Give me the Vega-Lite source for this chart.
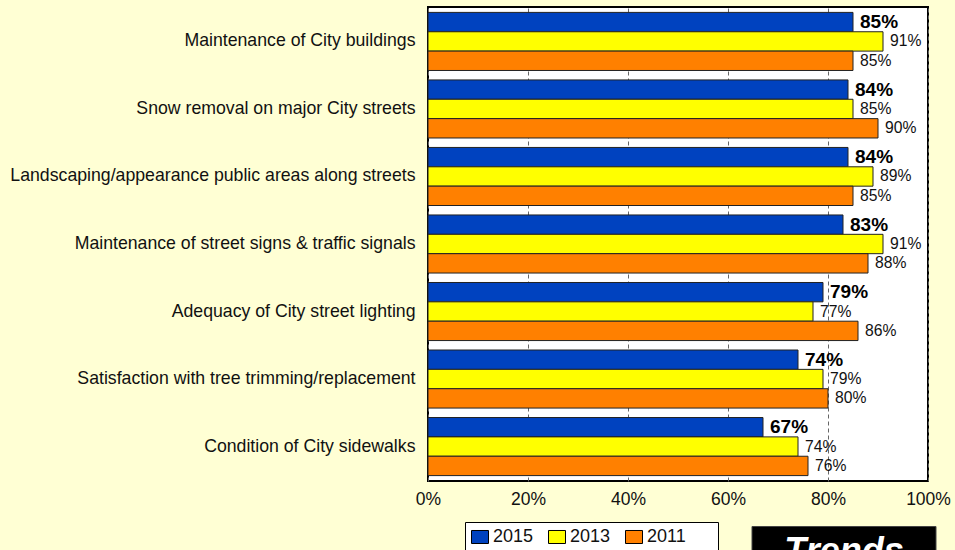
{
  "$schema": "https://vega.github.io/schema/vega-lite/v6.json",
  "width": 500,
  "height": 474,
  "autosize": {"type": "none"},
  "padding": {"left": 428, "top": 7, "right": 27, "bottom": 69},
  "background": "#FFFFD4",
  "config": {
    "font": "Liberation Sans",
    "view": {"fill": "white", "stroke": "black", "strokeWidth": 2}
  },
  "layer": [
    {
      "data": {
        "values": [
          {"item": "Maintenance of City buildings", "year": "2015", "value": 0.85},
          {"item": "Maintenance of City buildings", "year": "2013", "value": 0.91},
          {"item": "Maintenance of City buildings", "year": "2011", "value": 0.85},
          {"item": "Snow removal on major City streets", "year": "2015", "value": 0.84},
          {"item": "Snow removal on major City streets", "year": "2013", "value": 0.85},
          {"item": "Snow removal on major City streets", "year": "2011", "value": 0.90},
          {"item": "Landscaping/appearance public areas along streets", "year": "2015", "value": 0.84},
          {"item": "Landscaping/appearance public areas along streets", "year": "2013", "value": 0.89},
          {"item": "Landscaping/appearance public areas along streets", "year": "2011", "value": 0.85},
          {"item": "Maintenance of street signs & traffic signals", "year": "2015", "value": 0.83},
          {"item": "Maintenance of street signs & traffic signals", "year": "2013", "value": 0.91},
          {"item": "Maintenance of street signs & traffic signals", "year": "2011", "value": 0.88},
          {"item": "Adequacy of City street lighting", "year": "2015", "value": 0.79},
          {"item": "Adequacy of City street lighting", "year": "2013", "value": 0.77},
          {"item": "Adequacy of City street lighting", "year": "2011", "value": 0.86},
          {"item": "Satisfaction with tree trimming/replacement", "year": "2015", "value": 0.74},
          {"item": "Satisfaction with tree trimming/replacement", "year": "2013", "value": 0.79},
          {"item": "Satisfaction with tree trimming/replacement", "year": "2011", "value": 0.80},
          {"item": "Condition of City sidewalks", "year": "2015", "value": 0.67},
          {"item": "Condition of City sidewalks", "year": "2013", "value": 0.74},
          {"item": "Condition of City sidewalks", "year": "2011", "value": 0.76}
        ]
      },
      "encoding": {
        "y": {
          "field": "item",
          "type": "nominal",
          "sort": null,
          "scale": {"paddingInner": 0.14, "paddingOuter": 0.08},
          "axis": {
            "title": null,
            "ticks": false,
            "domain": false,
            "grid": false,
            "labelFontSize": 17.7,
            "labelPadding": 13,
            "labelLimit": 0,
            "labelColor": "#111111"
          }
        },
        "yOffset": {
          "field": "year",
          "type": "nominal",
          "scale": {"domain": ["2015", "2013", "2011"]}
        },
        "x": {
          "field": "value",
          "type": "quantitative",
          "scale": {"domain": [0, 1], "nice": false},
          "axis": {
            "title": null,
            "values": [0, 0.2, 0.4, 0.6, 0.8, 1],
            "format": ".0%",
            "grid": true,
            "gridDash": [4, 3],
            "gridColor": "#666666",
            "gridWidth": 1,
            "ticks": false,
            "domain": false,
            "labelFlush": false,
            "labelFontSize": 17.5,
            "labelPadding": 9,
            "labelColor": "#111111"
          }
        }
      },
      "layer": [
        {
          "mark": {"type": "bar", "stroke": "#222222", "strokeWidth": 1},
          "encoding": {
            "color": {
              "field": "year",
              "type": "nominal",
              "scale": {"domain": ["2015", "2013", "2011"], "range": ["#0042BF", "#FFFF00", "#FF8000"]},
              "legend": {
                "orient": "none",
                "legendX": 37,
                "legendY": 515,
                "direction": "horizontal",
                "title": null,
                "strokeColor": "black",
                "fillColor": "white",
                "padding": 6,
                "symbolType": "M-1,-0.765H1V0.765H-1Z",
                "symbolSize": 289,
                "symbolStrokeColor": "black",
                "symbolStrokeWidth": 1,
                "symbolOpacity": 1,
                "labelFontSize": 18,
                "labelColor": "#111111",
                "labelOffset": 4,
                "columnPadding": 12,
                "labelExpr": "datum.label == '2011' ? datum.label + '\u2800\u2800' : datum.label"
              }
            }
          }
        },
        {
          "transform": [{"filter": "datum.year == '2015'"}],
          "mark": {"type": "text", "align": "left", "baseline": "middle", "dx": 7, "fontSize": 19, "fontWeight": "bold", "color": "black"},
          "encoding": {"text": {"field": "value", "type": "quantitative", "format": ".0%"}}
        },
        {
          "transform": [{"filter": "datum.year != '2015'"}],
          "mark": {"type": "text", "align": "left", "baseline": "middle", "dx": 7, "fontSize": 15.7, "color": "#111111"},
          "encoding": {"text": {"field": "value", "type": "quantitative", "format": ".0%"}}
        }
      ]
    },
    {
      "data": {"values": [{"label": "Trends"}]},
      "layer": [
        {
          "mark": {"type": "rect", "color": "black", "stroke": "#444444", "strokeWidth": 1},
          "encoding": {
            "x": {"datum": 0.648, "type": "quantitative"},
            "x2": {"datum": 1.016},
            "y": {"datum": -0.096, "type": "quantitative", "scale": {"domain": [0, 1], "nice": false, "zero": false}, "axis": null},
            "y2": {"datum": -0.4}
          }
        },
        {
          "mark": {"type": "text", "align": "center", "baseline": "alphabetic", "fontSize": 36, "fontWeight": "bold", "fontStyle": "italic", "color": "white"},
          "encoding": {
            "x": {"datum": 0.832, "type": "quantitative"},
            "y": {"datum": -0.174, "type": "quantitative", "scale": {"domain": [0, 1], "nice": false, "zero": false}, "axis": null},
            "text": {"field": "label", "type": "nominal"}
          }
        }
      ]
    }
  ],
  "resolve": {"scale": {"y": "independent", "x": "shared"}}
}
